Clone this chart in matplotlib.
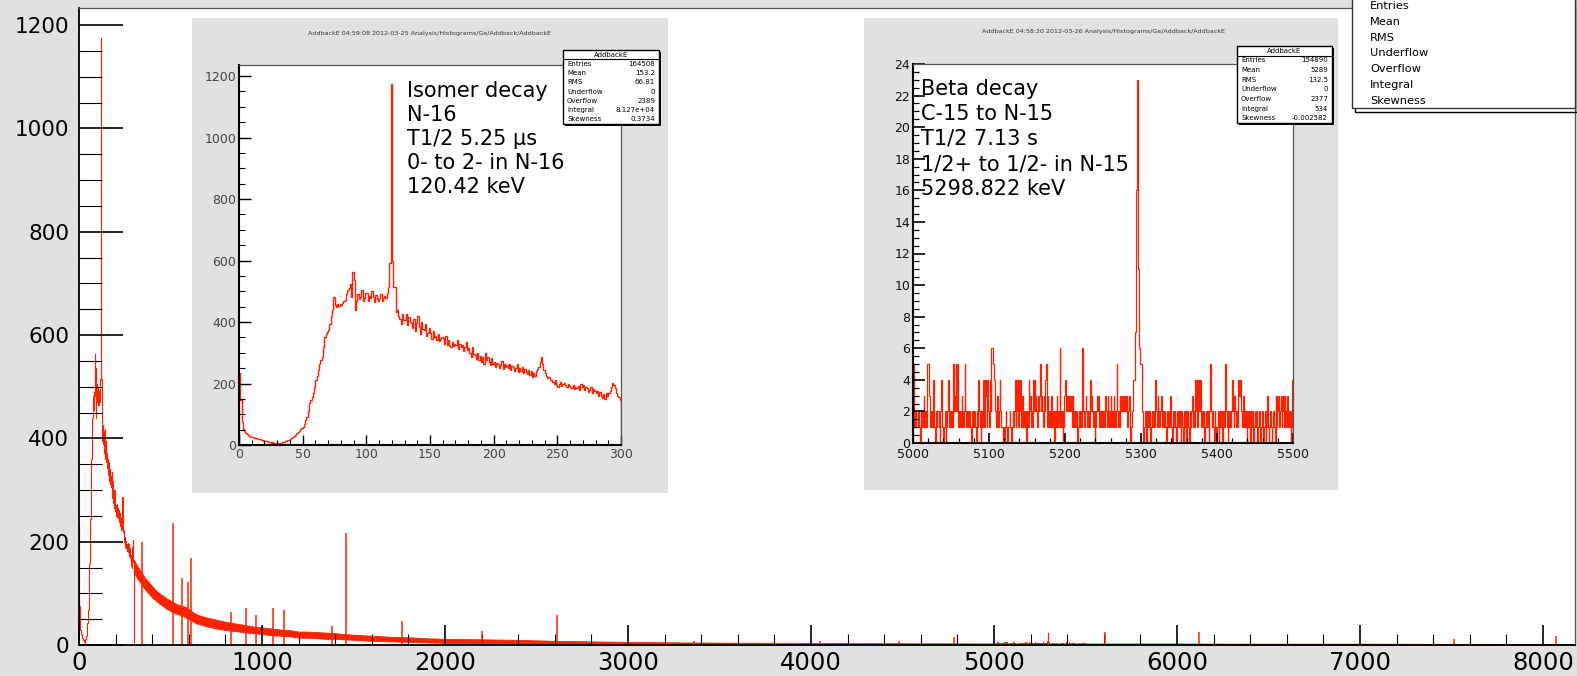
import matplotlib.pyplot as plt
from matplotlib.patches import Rectangle
from matplotlib.ticker import MultipleLocator

# Addback gamma spectrum, 1 keV bins
# counts for 0-299 keV (isomer region)
low_counts = [
    233, 146, 76, 52, 44, 38, 35, 33, 30, 27,
    27, 25, 24, 22, 20, 18, 19, 16, 15, 14,
    14, 12, 13, 10, 9, 8, 9, 7, 6, 5,
    5, 6, 4, 7, 9, 11, 12, 14, 15, 17,
    18, 22, 25, 28, 33, 38, 42, 46, 51, 55,
    60, 68, 80, 92, 110, 135, 145, 157, 170, 190,
    211, 225, 244, 262, 275, 287, 318, 352, 360, 368,
    374, 395, 420, 439, 482, 455, 450, 458, 452, 460,
    455, 462, 470, 471, 490, 504, 512, 525, 482, 563,
    536, 439, 470, 490, 475, 482, 505, 470, 478, 493,
    493, 470, 485, 477, 500, 482, 465, 488, 475, 470,
    477, 492, 470, 478, 485, 477, 495, 515, 591, 1174,
    600, 515, 515, 434, 440, 418, 410, 395, 425, 405,
    407, 425, 390, 415, 400, 396, 380, 410, 372, 398,
    418, 385, 360, 400, 378, 374, 395, 355, 365, 380,
    364, 345, 372, 350, 355, 342, 360, 338, 345, 352,
    347, 330, 355, 325, 340, 325, 318, 335, 322, 330,
    325, 340, 312, 328, 318, 325, 305, 320, 335, 310,
    314, 300, 285, 318, 295, 293, 280, 300, 275, 290,
    271, 285, 265, 300, 278, 287, 270, 260, 282, 265,
    271, 255, 268, 262, 250, 260, 272, 248, 262, 255,
    260, 250, 265, 245, 258, 255, 240, 252, 262, 238,
    249, 242, 255, 235, 248, 239, 230, 245, 228, 240,
    222, 235, 225, 240, 248, 255, 270, 287, 265, 245,
    233, 225, 218, 222, 210, 211, 205, 200, 210, 195,
    190, 198, 205, 192, 200, 201, 195, 188, 198, 192,
    190, 185, 195, 182, 190, 184, 192, 180, 198, 188,
    195, 178, 190, 185, 172, 179, 188, 170, 182, 175,
    168, 175, 160, 172, 158, 152, 165, 150, 170, 160,
    168, 175, 190, 203, 195, 184, 170, 160, 155, 146,
]

# counts for 5000-5499 keV (beta decay region)
beta_counts = [
    5, 1, 2, 1, 2, 2, 1, 2, 1, 0, 2, 1, 2, 1, 3, 1, 2, 1, 5, 5, 5, 3, 2, 1, 2,
    1, 4, 2, 1, 0, 2, 1, 2, 2, 1, 0, 2, 4, 1, 1, 0, 1, 2, 0, 1, 2, 4, 2, 1, 2,
    1, 2, 1, 5, 2, 3, 5, 2, 5, 1, 2, 1, 2, 1, 3, 2, 1, 2, 5, 2, 1, 2, 2, 1, 2,
    1, 0, 1, 2, 1, 2, 1, 1, 0, 2, 1, 4, 2, 1, 0, 2, 1, 4, 2, 1, 4, 3, 1, 4, 2,
    1, 4, 2, 6, 6, 5, 5, 4, 2, 1, 2, 3, 1, 2, 4, 2, 1, 1, 0, 1, 0, 1, 2, 1, 0,
    1, 1, 2, 1, 0, 1, 2, 1, 2, 4, 1, 2, 4, 1, 4, 2, 4, 1, 2, 3, 1, 2, 1, 2, 0,
    2, 1, 4, 2, 3, 1, 2, 1, 4, 2, 4, 3, 2, 1, 3, 2, 3, 5, 2, 3, 2, 1, 3, 2, 4,
    5, 1, 3, 2, 1, 2, 1, 3, 1, 2, 1, 0, 2, 1, 3, 1, 2, 1, 6, 2, 1, 2, 0, 1, 3,
    4, 2, 3, 3, 2, 3, 3, 2, 3, 1, 3, 2, 1, 2, 1, 2, 0, 1, 2, 1, 2, 1, 3, 6, 2,
    1, 2, 3, 2, 1, 2, 1, 1, 4, 2, 3, 2, 1, 2, 0, 1, 2, 3, 2, 3, 1, 2, 1, 2, 1,
    2, 1, 2, 3, 2, 1, 3, 2, 1, 2, 3, 1, 2, 1, 3, 2, 1, 2, 5, 2, 1, 2, 1, 3, 2,
    3, 2, 3, 2, 3, 2, 3, 1, 2, 3, 1, 0, 1, 2, 3, 4, 4, 7, 16, 16, 23, 11, 6, 6, 5,
    5, 2, 1, 0, 1, 2, 1, 0, 2, 1, 1, 2, 0, 1, 2, 1, 2, 1, 2, 4, 2, 1, 3, 2, 1,
    2, 3, 3, 1, 2, 1, 2, 1, 0, 2, 1, 2, 1, 3, 2, 1, 0, 2, 1, 2, 1, 0, 2, 1, 2,
    1, 2, 0, 2, 1, 0, 2, 1, 2, 0, 1, 2, 1, 0, 2, 1, 2, 3, 1, 2, 1, 4, 2, 4, 1,
    4, 2, 3, 4, 1, 2, 1, 2, 0, 1, 2, 1, 2, 1, 0, 2, 5, 2, 1, 2, 1, 0, 2, 1, 0,
    1, 2, 0, 1, 2, 1, 2, 0, 2, 1, 2, 5, 2, 1, 0, 2, 1, 2, 1, 2, 4, 2, 1, 3, 2,
    1, 2, 1, 4, 3, 4, 4, 2, 1, 3, 2, 1, 2, 1, 0, 2, 1, 2, 1, 0, 2, 1, 2, 0, 1,
    2, 1, 2, 0, 1, 2, 1, 0, 1, 2, 1, 0, 1, 2, 0, 1, 3, 1, 0, 1, 2, 1, 0, 1, 2,
    1, 0, 3, 1, 3, 2, 3, 1, 2, 3, 1, 2, 3, 1, 3, 2, 1, 3, 1, 2, 1, 2, 0, 1, 4,
]

# continuum above 300 keV: lower / upper edge of the noise band
cont_keV = [300, 320, 340, 360, 380, 400, 420, 440, 460, 480, 500, 520, 540, 560,
            580, 600, 620, 640, 660, 680, 700, 750, 800, 850, 900, 950, 1000, 1050,
            1100, 1150, 1200, 1250, 1300, 1350, 1400, 1450, 1500, 1600, 1700, 1800,
            1900, 2000, 2200, 2400, 2600, 2800, 3000, 3300, 3600, 4000, 4500, 5000,
            5500, 6000, 6500, 7000, 7500, 8000, 8175]
cont_lo = [140, 128, 118, 108, 100, 92, 86, 80, 75, 70, 66, 62, 60, 57,
           54, 50, 46, 42, 40, 38, 36, 32, 29, 27, 25, 23, 21, 19,
           18, 17, 14, 14, 13, 12, 12, 11, 10, 8, 7, 6,
           5, 4, 3, 3, 2, 1, 1, 0.5, 0.5, 0.5, 0.5, 0.5,
           0.5, 0.3, 0.3, 0.2, 0.2, 0.2, 0.2]
cont_hi = [165, 152, 142, 130, 122, 114, 106, 100, 95, 90, 86, 82, 78, 76,
           74, 70, 64, 60, 57, 55, 53, 49, 45, 42, 39, 36, 34, 32,
           30, 29, 26, 26, 25, 24, 23, 21, 20, 18, 16, 15,
           13, 12, 11, 10, 8, 7, 6, 5, 4.5, 4, 3.5, 3,
           3, 3, 2.5, 2.5, 2.2, 2, 2]

# gamma lines above the continuum
peak_keV = [346, 511, 565, 595, 612, 833, 911, 968, 1060, 1120, 1380, 1460,
            1765, 2204, 2614, 3360, 4048, 4480, 4779, 5606, 6120, 7514, 8069]
peak_counts = [200, 236, 130, 122, 168, 64, 72, 58, 72, 68, 37, 217,
               46, 27, 58, 8, 8, 7, 15, 25, 26, 12, 17]

stat_names = ["Entries", "Mean", "RMS", "Underflow", "Overflow", "Integral", "Skewness"]
isomer_stats = ["164508", "153.2", "66.81", "0", "2389", "8.127e+04", "0.3734"]
beta_stats = ["154890", "5289", "132.5", "0", "2377", "534", "-0.002582"]

isomer_lines = ["Isomer decay", "N-16", "T1/2 5.25 \u00b5s", "0- to 2- in N-16", "120.42 keV"]
beta_lines = ["Beta decay", "C-15 to N-15", "T1/2 7.13 s", "1/2+ to 1/2- in N-15", "5298.822 keV"]

RED = '#ff2200'
GREY = '#e1e1e1'
W, H = 1577, 676

fig = plt.figure(figsize=(W / 100, H / 100), dpi=100, facecolor=GREY)


def frac(x0, y0, x1, y1):
    return [x0 / W, 1 - y1 / H, (x1 - x0) / W, (y1 - y0) / H]


def pxtext(x, y, s, **kw):
    return fig.text(x / W, 1 - y / H, s, **kw)


def style_frame(ax, heavy=1.5):
    for side in ['left', 'bottom']:
        ax.spines[side].set_linewidth(heavy)
        ax.spines[side].set_color('black')
    for side in ['top', 'right']:
        ax.spines[side].set_linewidth(0.9)
        ax.spines[side].set_color('#555555')


def stats_box(x0, y0, x1, y1, title, values, fs=5):
    fig.patches.append(Rectangle((x0 / W + 1.5 / W, 1 - y1 / H - 1.5 / H), (x1 - x0) / W, (y1 - y0) / H,
                                 transform=fig.transFigure, facecolor='black', lw=0, zorder=2))
    fig.patches.append(Rectangle((x0 / W, 1 - y1 / H), (x1 - x0) / W, (y1 - y0) / H,
                                 transform=fig.transFigure, facecolor='white',
                                 edgecolor='black', lw=1, zorder=2))
    row = (y1 - y0) / (len(values) + 1)
    pxtext((x0 + x1) / 2, y0 + row / 2, title, fontsize=fs, ha='center', va='center', zorder=3)
    fig.lines.append(plt.Line2D([x0 / W, x1 / W], [1 - (y0 + row) / H] * 2,
                                transform=fig.transFigure, color='black', lw=0.8, zorder=3))
    for i, (name, val) in enumerate(zip(stat_names, values)):
        yc = y0 + row * (i + 1.5)
        pxtext(x0 + 4, yc, name, fontsize=fs, ha='left', va='center', zorder=3)
        pxtext(x1 - 4, yc, val, fontsize=fs, ha='right', va='center', zorder=3)


# ---- full spectrum ----
ax = fig.add_axes(frac(79, 8, 1575, 645))
ax.set_facecolor('white')
ax.fill_between(cont_keV, cont_lo, cont_hi, color=RED, lw=0.6, edgecolor=RED)
ax.vlines(peak_keV, 0, peak_counts, color=RED, lw=1.1)
ax.stairs(low_counts, range(0, len(low_counts) + 1), color=RED, lw=0.8)
ax.stairs(beta_counts, range(5000, 5000 + len(beta_counts) + 1), color=RED, lw=0.8)
ax.set_xlim(0, 8175)
ax.set_ylim(0, 1233)
ax.xaxis.set_major_locator(MultipleLocator(1000))
ax.xaxis.set_minor_locator(MultipleLocator(200))
ax.yaxis.set_major_locator(MultipleLocator(200))
ax.yaxis.set_minor_locator(MultipleLocator(50))
ax.tick_params(axis='x', which='major', direction='in', length=14.4, width=1.2,
               top=False, labelsize=17.5, pad=4)
ax.tick_params(axis='x', which='minor', direction='in', length=7.9, width=0.8, top=False)
ax.tick_params(axis='y', which='major', direction='in', length=31.7, width=1.2,
               right=False, labelsize=15.5, pad=7)
ax.tick_params(axis='y', which='minor', direction='in', length=16.6, width=0.8, right=False)
style_frame(ax, heavy=1.3)

# main stats box, partly outside the canvas
fig.patches.append(Rectangle((1355 / W, 1 - 112 / H), 222 / W, 120 / H,
                             transform=fig.transFigure, facecolor='none',
                             edgecolor='black', lw=1, zorder=2))
fig.patches.append(Rectangle((1352 / W, 1 - 108 / H), 223 / W, 120 / H,
                             transform=fig.transFigure, facecolor='white',
                             edgecolor='#333333', lw=1, zorder=2))
for i, name in enumerate(stat_names):
    pxtext(1370, 6 + 15.8 * i, name, fontsize=8.2, ha='left', va='center', zorder=3)

# ---- isomer inset ----
pad1 = fig.add_axes(frac(192, 18, 668, 493))
pad1.set_facecolor(GREY)
pad1.set_xticks([])
pad1.set_yticks([])
for s in pad1.spines.values():
    s.set_visible(False)

ax1 = fig.add_axes(frac(239, 65, 621, 445))
ax1.stairs(low_counts, range(0, len(low_counts) + 1), color=RED, lw=1.0)
ax1.set_xlim(0, 300)
ax1.set_ylim(0, 1236)
ax1.xaxis.set_major_locator(MultipleLocator(50))
ax1.xaxis.set_minor_locator(MultipleLocator(10))
ax1.yaxis.set_major_locator(MultipleLocator(200))
ax1.yaxis.set_minor_locator(MultipleLocator(50))
ax1.tick_params(which='major', direction='in', length=7, width=1, top=False, right=False,
                labelsize=9, labelcolor='#444444', pad=2)
ax1.tick_params(axis='y', which='major', length=8.5)
ax1.tick_params(which='minor', direction='in', length=3.5, width=0.8, top=False, right=False)
ax1.tick_params(axis='y', which='minor', length=4.5)
style_frame(ax1)

pxtext(430, 34, "AddbackE 04:59:08 2012-03-25 Analysis/Histograms/Ge/Addback/AddbackE",
       fontsize=4.6, ha='center', va='center', color='#333333')
stats_box(563, 50, 659, 124, "AddbackE", isomer_stats)
for i, line in enumerate(isomer_lines):
    pxtext(407, 97 + 24 * i, line, fontsize=15, ha='left', va='baseline', zorder=3)

# ---- beta inset ----
pad2 = fig.add_axes(frac(864, 18, 1338, 490))
pad2.set_facecolor(GREY)
pad2.set_xticks([])
pad2.set_yticks([])
for s in pad2.spines.values():
    s.set_visible(False)

ax2 = fig.add_axes(frac(913, 64, 1293, 443))
ax2.stairs(beta_counts, range(5000, 5000 + len(beta_counts) + 1), color=RED, lw=0.9)
ax2.set_xlim(5000, 5500)
ax2.set_ylim(0, 24)
ax2.xaxis.set_major_locator(MultipleLocator(100))
ax2.xaxis.set_minor_locator(MultipleLocator(20))
ax2.yaxis.set_major_locator(MultipleLocator(2))
ax2.yaxis.set_minor_locator(MultipleLocator(0.5))
ax2.tick_params(which='major', direction='in', length=7, width=1.2, top=False, right=False,
                labelsize=9, labelcolor='#111111', pad=2)
ax2.tick_params(axis='x', which='major', pad=3.5)
ax2.tick_params(axis='y', which='major', length=8.5)
ax2.tick_params(which='minor', direction='in', length=3.5, width=0.9, top=False, right=False)
ax2.tick_params(axis='y', which='minor', length=4.5)
style_frame(ax2)

pxtext(1103, 32, "AddbackE 04:58:20 2012-03-26 Analysis/Histograms/Ge/Addback/AddbackE",
       fontsize=4.6, ha='center', va='center', color='#333333')
stats_box(1237, 46, 1332, 123, "AddbackE", beta_stats)
for i, line in enumerate(beta_lines):
    pxtext(921, 95 + 25 * i, line, fontsize=15, ha='left', va='baseline', zorder=3)

fig.savefig('out.png', dpi=100, facecolor=GREY)
